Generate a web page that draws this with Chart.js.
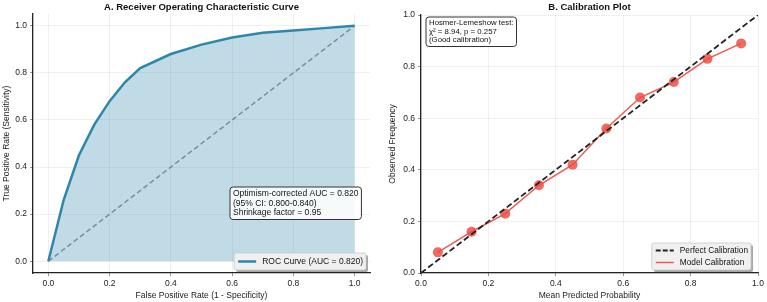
<!DOCTYPE html>
<html>
<head>
<meta charset="utf-8">
<script src="https://cdn.jsdelivr.net/npm/chart.js@4/dist/chart.umd.min.js"></script>
<style>
  body { margin:0; background:#fff; }
  canvas { position:absolute; top:0; }
</style>
</head>
<body>
<canvas id="roc" width="380" height="302" style="left:0"></canvas>
<canvas id="cal" width="387" height="302" style="left:380px"></canvas>
<script>
// ROC curve points
const rocFpr = [0, 0.05, 0.1, 0.15, 0.2, 0.25, 0.3, 0.4, 0.5, 0.6, 0.7, 0.8, 0.9, 1.0];
const rocTpr = [0, 0.26, 0.45, 0.58, 0.68, 0.76, 0.82, 0.88, 0.92, 0.95, 0.97, 0.98, 0.99, 1.0];
const chanceLine = [0, 1];

// calibration bins
const calPredicted = [0.05, 0.15, 0.25, 0.35, 0.45, 0.55, 0.65, 0.75, 0.85, 0.95];
const calObserved = [0.08, 0.16, 0.23, 0.34, 0.42, 0.56, 0.68, 0.74, 0.83, 0.89];
const perfectLine = [0, 1];

const tickValues = [0, 0.2, 0.4, 0.6, 0.8, 1.0];

const rocNotes = ['Optimism-corrected AUC = 0.820', '(95% CI: 0.800-0.840)', 'Shrinkage factor = 0.95'];
const calNotes = ['Hosmer-Lemeshow test:', 'χ² = 8.94, p = 0.257', '(Good calibration)'];

const FONT = '"Liberation Sans", Arial, sans-serif';
const ROC_BLUE = '#2E86AB';
const CAL_RED = '#EE5A4F';

function rrect(ctx, x, y, w, h, r) {
  ctx.beginPath();
  ctx.moveTo(x + r, y);
  ctx.lineTo(x + w - r, y); ctx.quadraticCurveTo(x + w, y, x + w, y + r);
  ctx.lineTo(x + w, y + h - r); ctx.quadraticCurveTo(x + w, y + h, x + w - r, y + h);
  ctx.lineTo(x + r, y + h); ctx.quadraticCurveTo(x, y + h, x, y + h - r);
  ctx.lineTo(x, y + r); ctx.quadraticCurveTo(x, y, x + r, y);
  ctx.closePath();
}

// title, note box and legend drawn over the plot, matplotlib style
const extras = {
  id: 'extras',
  afterDraw(chart, args, o) {
    const ctx = chart.ctx, a = chart.chartArea;
    ctx.save();
    ctx.fillStyle = '#111';
    ctx.font = 'bold 9.5px ' + FONT;
    ctx.textAlign = 'center';
    ctx.textBaseline = 'middle';
    ctx.fillText(o.title, (a.left + a.right) / 2, 7);

    // note box
    ctx.font = o.noteFont + 'px ' + FONT;
    ctx.textAlign = 'left';
    const lh = o.noteLine;
    let w = 0;
    o.notes.forEach(t => w = Math.max(w, ctx.measureText(t).width));
    const bw = w + 6, bh = lh * o.notes.length + 4;
    const bx = o.noteAt[0], by = o.noteAt[1];
    rrect(ctx, bx, by, bw, bh, 3);
    ctx.fillStyle = 'rgba(255,255,255,0.85)'; ctx.fill();
    ctx.strokeStyle = '#333'; ctx.lineWidth = 1; ctx.stroke();
    ctx.fillStyle = '#111';
    o.notes.forEach((t, i) => ctx.fillText(t, bx + 3, by + 2 + lh * i + lh / 2));

    // legend
    ctx.font = o.legendFont + 'px ' + FONT;
    const items = o.legend;
    let lw = 0;
    items.forEach(it => lw = Math.max(lw, ctx.measureText(it.text).width));
    const rowH = 12;
    const W = lw + 31, H = rowH * items.length + (items.length > 1 ? 3 : 5);
    const lx = o.legendRight - W, ly = a.bottom - 3 - H;
    rrect(ctx, lx + 2, ly + 2, W, H, 2);
    ctx.fillStyle = 'rgba(0,0,0,0.35)'; ctx.fill();
    rrect(ctx, lx, ly, W, H, 2);
    ctx.fillStyle = '#f0f0f0'; ctx.fill();
    ctx.strokeStyle = '#c8c8c8'; ctx.lineWidth = 0.8; ctx.stroke();
    items.forEach((it, i) => {
      const y = ly + H / 2 + (i - (items.length - 1) / 2) * rowH;
      ctx.beginPath();
      ctx.setLineDash(it.dash || []);
      ctx.strokeStyle = it.color; ctx.lineWidth = it.width;
      ctx.moveTo(lx + 4, y); ctx.lineTo(lx + 22, y); ctx.stroke();
      ctx.setLineDash([]);
      ctx.fillStyle = '#111';
      ctx.fillText(it.text, lx + 28, y);
    });
    ctx.restore();
  }
};

function axis(min, max, title, isX, size, titlePad) {
  return {
    type: 'linear', min, max,
    afterBuildTicks: s => { s.ticks = tickValues.map(v => ({ value: v })); },
    afterFit: s => { if (isX) s.height = size; else s.width = size; },
    grid: { color: 'rgba(0,0,0,0.08)', lineWidth: 0.8, tickColor: '#777', tickLength: 3 },
    border: { display: true, color: '#222', width: 1.3 },
    ticks: { color: '#222', font: { family: FONT, size: 8.5 }, padding: 3, maxRotation: 0, autoSkip: false,
             callback: v => Number(v).toFixed(1) },
    title: { display: true, text: title, color: '#222', font: { family: FONT, size: 8.5 }, padding: titlePad }
  };
}

new Chart(document.getElementById('roc'), {
  type: 'line',
  data: {
    datasets: [
      { label: 'ROC Curve (AUC = 0.820)', data: rocFpr.map((x, i) => ({ x, y: rocTpr[i] })),
        borderColor: ROC_BLUE, borderWidth: 2.5, pointRadius: 0, tension: 0,
        fill: 'origin', backgroundColor: 'rgba(46,134,171,0.3)' },
      { label: 'chance', data: chanceLine.map(v => ({ x: v, y: v })),
        borderColor: 'rgba(128,128,128,0.85)', borderWidth: 1.5, borderDash: [5, 3], pointRadius: 0, fill: false }
    ]
  },
  options: {
    responsive: false, animation: false, devicePixelRatio: 1,
    layout: { padding: { left: 0, top: 14, right: 10, bottom: 0 }, autoPadding: false },
    scales: {
      x: axis(-0.05, 1.05, 'False Positive Rate (1 - Specificity)', true, 29, { top: 1, bottom: 1 }),
      y: axis(-0.05, 1.05, 'True Positive Rate (Sensitivity)', false, 33, { top: 2, bottom: 0 })
    },
    plugins: {
      legend: { display: false }, tooltip: { enabled: false },
      extras: { title: 'A. Receiver Operating Characteristic Curve', notes: rocNotes, noteAt: [230, 187],
        noteFont: 8.5, noteLine: 9.5, legendFont: 8.5, legendRight: 366,
        legend: [{ text: 'ROC Curve (AUC = 0.820)', color: ROC_BLUE, width: 2.5 }] }
    }
  },
  plugins: [extras]
});

new Chart(document.getElementById('cal'), {
  type: 'line',
  data: {
    datasets: [
      { label: 'Perfect Calibration', data: perfectLine.map(v => ({ x: v, y: v })),
        borderColor: '#222', borderWidth: 1.8, borderDash: [6, 3], pointRadius: 0, fill: false },
      { label: 'Model Calibration', data: calPredicted.map((x, i) => ({ x, y: calObserved[i] })),
        borderColor: CAL_RED, borderWidth: 1.5, tension: 0, fill: false,
        pointRadius: 5, pointBackgroundColor: 'rgba(235,80,70,0.85)', pointBorderWidth: 0 }
    ]
  },
  options: {
    responsive: false, animation: false, devicePixelRatio: 1,
    layout: { padding: { left: 0, top: 15, right: 9, bottom: 0 }, autoPadding: false },
    scales: {
      x: axis(0, 1, 'Mean Predicted Probability', true, 29, { top: 1, bottom: 1 }),
      y: axis(0, 1, 'Observed Frequency', false, 41, { top: 8, bottom: 0 })
    },
    plugins: {
      legend: { display: false }, tooltip: { enabled: false },
      extras: { title: 'B. Calibration Plot', notes: calNotes, noteAt: [46, 17],
        noteFont: 7.8, noteLine: 8.5, legendFont: 8.3, legendRight: 371,
        legend: [{ text: 'Perfect Calibration', color: '#222', width: 1.8, dash: [5, 2] },
                 { text: 'Model Calibration', color: CAL_RED, width: 1.5 }] }
    }
  },
  plugins: [extras]
});
</script>
</body>
</html>
